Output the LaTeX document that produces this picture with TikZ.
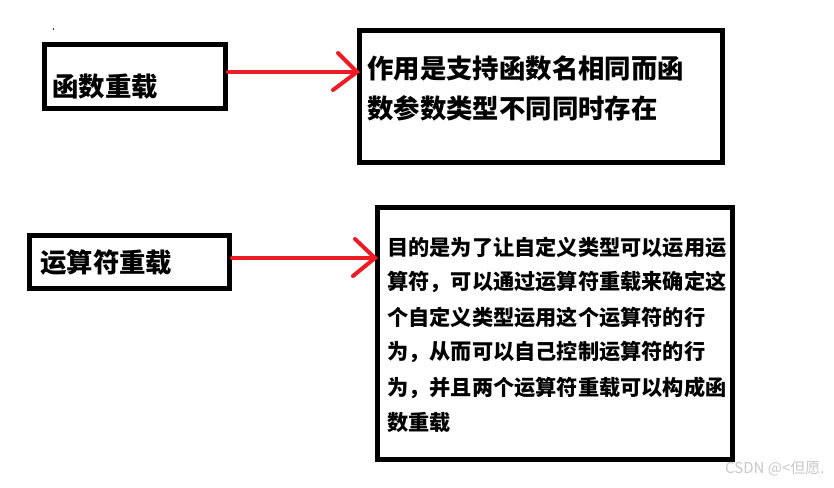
\documentclass[tikz,border=0pt]{standalone}
\usepackage{fontspec}
\newfontfamily\cjk{Noto Sans CJK SC}
\definecolor{arrowred}{HTML}{ED1C24}
\definecolor{wmgray}{HTML}{C8C8C8}
\tikzset{
  frame/.style={draw=black, line width=5pt, inner sep=0pt, fill=white},
  bigtext/.style={anchor=west, inner sep=0pt, font=\cjk\bfseries\fontsize{26.4}{30}\selectfont},
  smalltext/.style={anchor=west, inner sep=0pt, font=\cjk\bfseries\fontsize{21.2}{25}\selectfont},
  redline/.style={draw=arrowred, line width=4pt, line cap=round},
}
\begin{document}
\begin{tikzpicture}[x=1pt,y=-1pt]
\useasboundingbox (0,0) rectangle (834,487);
\fill[white] (0,0) rectangle (834,487);
% tiny dot
\fill[black!80] (52.5,28.5) rectangle (54,30);
% boxes
\node[frame, minimum width=181pt, minimum height=64pt] (b1) at (135,76.5) {};
\node[frame, minimum width=363pt, minimum height=132pt] (b2) at (541,96.5) {};
\node[frame, minimum width=200pt, minimum height=53pt] (b3) at (129.5,262) {};
\node[frame, minimum width=355pt, minimum height=252pt] (b4) at (555,333.5) {};
% texts
\node[bigtext] (t1) at (52,87) {函数重载};
\node[bigtext] (t2a) at (367,68) {作用是支持函数名相同而函};
\node[bigtext] (t2b) at (367,108) {数参数类型不同同时存在};
\node[bigtext] (t3) at (40,263) {运算符重载};
\node[smalltext] (t4a) at (387,247) {目的是为了让自定义类型可以运用运};
\node[smalltext] (t4b) at (387,282) {算符，可以通过运算符重载来确定这};
\node[smalltext] (t4c) at (387,317) {个自定义类型运用这个运算符的行};
\node[smalltext] (t4d) at (387,352) {为，从而可以自己控制运算符的行};
\node[smalltext] (t4e) at (387,388) {为，并且两个运算符重载可以构成函};
\node[smalltext] (t4f) at (387,423) {数重载};
% arrows
\coordinate (a1s) at (b1.east |- 0,72);
\coordinate (a1t) at (b2.west |- 0,72);
\coordinate (a1u) at (338,53);
\coordinate (a1d) at (333,90);
\draw[redline] (a1s) -- (a1t);
\draw[redline] (a1u) -- (a1t) -- (a1d);
\coordinate (a2s) at (b3.east |- 0,258);
\coordinate (a2t) at (b4.west |- 0,258);
\coordinate (a2u) at (355,239);
\coordinate (a2d) at (353,276);
\draw[redline] (a2s) -- (a2t);
\draw[redline] (a2u) -- (a2t) -- (a2d);
% watermark
\node[anchor=west, inner sep=0pt, text=wmgray, font=\cjk\fontsize{15}{17}\selectfont] (wm) at (725,469) {CSDN @<但愿.};
\end{tikzpicture}
\end{document}
